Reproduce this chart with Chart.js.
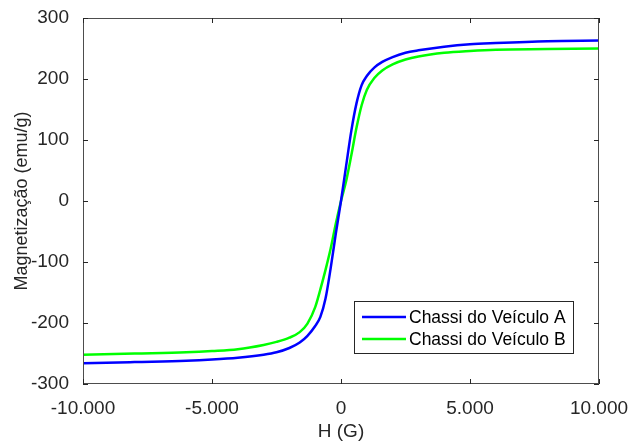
<!DOCTYPE html>
<html>
<head>
<meta charset="utf-8">
<script src="https://cdn.jsdelivr.net/npm/chart.js@4.4.1/dist/chart.umd.min.js"></script>
<style>
  html, body { margin: 0; padding: 0; background: #fff; }
  #chart { display: block; }
</style>
</head>
<body>
<canvas id="chart" width="628" height="443"></canvas>
<script>
"use strict";

// Campo aplicado H (G)
const campoH = [-10000, -8000, -6000, -5000, -4000, -3000, -2500, -2000, -1600, -1300, -1000, -800, -600, -400, -200,
    0, 200, 400, 600, 800, 1000, 1300, 1600, 2000, 2500, 3000, 4000, 5000, 6000, 8000, 10000];

// Magnetizacao (emu/g)
const veiculoA = [-266, -264, -262, -260, -257, -252, -248, -241, -232, -221, -205, -190, -160, -110, -53,
    0, 58, 115, 160, 190, 205, 219, 228, 236, 243, 247, 253, 257, 259, 262, 263];
const veiculoB = [-252, -250, -248, -246, -243, -236, -231, -224, -215, -201, -174, -145, -113, -78, -37,
    0, 33, 75, 120, 157, 182, 202, 214, 224, 232, 237, 243, 246, 248, 249, 250];

const seriesLabels = ["Chassi do Veículo A", "Chassi do Veículo B"];
const xTicks = [-10000, -5000, 0, 5000, 10000];
const yTicks = [-300, -200, -100, 0, 100, 200, 300];

const FONT = "'Liberation Sans', Arial, Helvetica, sans-serif";
const AXIS_COLOR = "#262626";

function toPoints(ys) {
    return campoH.map((h, i) => ({ x: h, y: ys[i] }));
}

function formatThousands(v) {
    const s = Math.abs(v).toString().replace(/\B(?=(\d{3})+(?!\d))/g, ".");
    return (v < 0 ? "-" : "") + s;
}

// Box around the plot with inward ticks on all four sides (MATLAB style)
const boxPlugin = {
    id: "box",
    afterDatasetsDraw(chart) {
        const { ctx, chartArea: a, scales } = chart;
        const len = 5;
        ctx.save();
        ctx.strokeStyle = "#4d4d4d";
        ctx.lineWidth = 1;
        ctx.strokeRect(a.left + 0.5, a.top + 0.5, a.right - a.left - 1, a.bottom - a.top - 1);
        ctx.strokeStyle = AXIS_COLOR;
        ctx.beginPath();
        xTicks.forEach(v => {
            const x = Math.round(scales.x.getPixelForValue(v)) + 0.5;
            ctx.moveTo(x, a.bottom); ctx.lineTo(x, a.bottom - len);
            ctx.moveTo(x, a.top); ctx.lineTo(x, a.top + len);
        });
        yTicks.forEach(v => {
            const y = Math.round(scales.y.getPixelForValue(v)) + 0.5;
            ctx.moveTo(a.left, y); ctx.lineTo(a.left + len, y);
            ctx.moveTo(a.right, y); ctx.lineTo(a.right - len, y);
        });
        ctx.stroke();
        ctx.restore();
    }
};

// Legend drawn inside the plot, lower right
const legendPlugin = {
    id: "boxLegend",
    afterDraw(chart) {
        const { ctx, chartArea: a } = chart;
        const w = 220, h = 53;
        const x0 = a.right - 25 - w;
        const y0 = a.bottom - 30 - h;
        ctx.save();
        ctx.fillStyle = "#fff";
        ctx.fillRect(x0, y0, w, h);
        ctx.strokeStyle = AXIS_COLOR;
        ctx.lineWidth = 1;
        ctx.strokeRect(x0 + 0.5, y0 + 0.5, w - 1, h - 1);
        ctx.font = "17.5px " + FONT;
        ctx.textBaseline = "middle";
        ctx.fillStyle = "#000";
        chart.data.datasets.forEach((ds, i) => {
            const y = y0 + 16 + i * 22;
            ctx.strokeStyle = ds.borderColor;
            ctx.lineWidth = 2.5;
            ctx.beginPath();
            ctx.moveTo(x0 + 8, y);
            ctx.lineTo(x0 + 52, y);
            ctx.stroke();
            ctx.fillText(ds.label, x0 + 55, y + 1);
        });
        ctx.restore();
    }
};

const config = {
    type: "scatter",
    data: {
        datasets: [
            {
                label: seriesLabels[0],
                data: toPoints(veiculoA),
                borderColor: "#0000ff",
                showLine: true,
                borderWidth: 2.5,
                pointRadius: 0,
                cubicInterpolationMode: "monotone"
            },
            {
                label: seriesLabels[1],
                data: toPoints(veiculoB),
                borderColor: "#00ff00",
                showLine: true,
                borderWidth: 2.5,
                pointRadius: 0,
                cubicInterpolationMode: "monotone"
            }
        ]
    },
    options: {
        responsive: false,
        animation: false,
        layout: { padding: { left: 0, top: 18, right: 29, bottom: 0 } },
        plugins: {
            legend: { display: false },
            tooltip: { enabled: false }
        },
        scales: {
            x: {
                type: "linear",
                min: -10000,
                max: 10000,
                afterFit: s => { s.height = 59; s.paddingLeft = 0; s.paddingRight = 0; },
                afterBuildTicks: s => { s.ticks = xTicks.map(v => ({ value: v })); },
                grid: { display: false },
                border: { display: false },
                ticks: {
                    color: AXIS_COLOR,
                    font: { family: FONT, size: 19 },
                    padding: 5,
                    maxRotation: 0,
                    callback: v => formatThousands(v)
                },
                title: {
                    display: true,
                    text: "H (G)",
                    color: AXIS_COLOR,
                    font: { family: FONT, size: 19 },
                    padding: { top: 0, bottom: 0 }
                }
            },
            y: {
                type: "linear",
                min: -300,
                max: 300,
                afterFit: s => { s.width = 83; s.paddingTop = 0; s.paddingBottom = 0; },
                afterBuildTicks: s => { s.ticks = yTicks.map(v => ({ value: v })); },
                grid: { display: false },
                border: { display: false },
                ticks: {
                    color: AXIS_COLOR,
                    font: { family: FONT, size: 19 },
                    padding: 6
                },
                title: {
                    display: true,
                    text: "Magnetização (emu/g)",
                    color: AXIS_COLOR,
                    font: { family: FONT, size: 18 },
                    padding: { top: 11, bottom: 0 }
                }
            }
        }
    },
    plugins: [boxPlugin, legendPlugin]
};

const chart = new Chart(document.getElementById("chart").getContext("2d"), config);
</script>
</body>
</html>
